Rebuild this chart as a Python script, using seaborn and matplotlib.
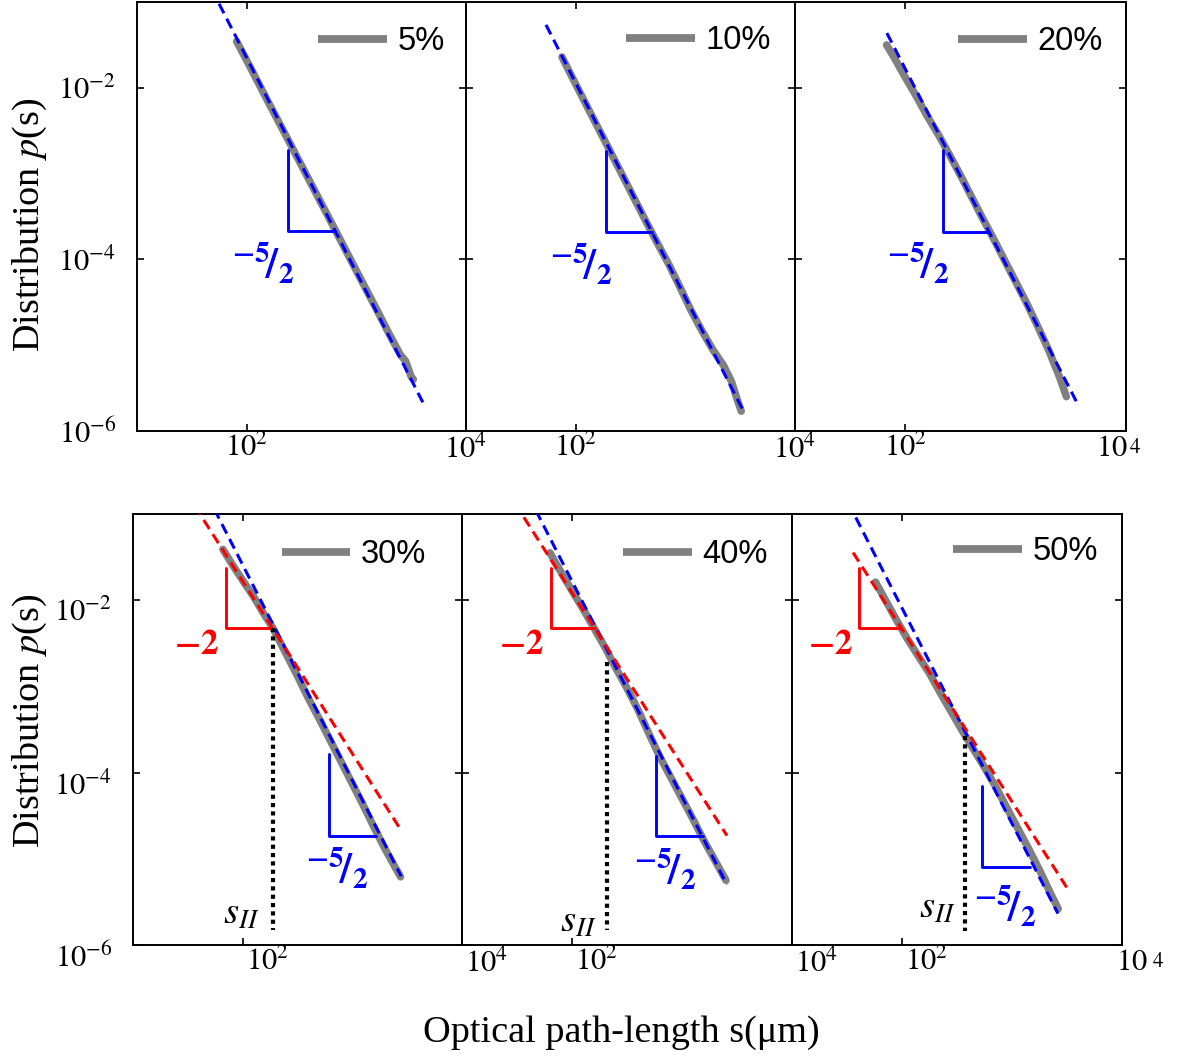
import matplotlib
matplotlib.use("Agg")
import matplotlib.pyplot as plt
import matplotlib.transforms as mtransforms
import seaborn as sns

sns.set_style("ticks")
plt.rcParams["font.family"] = ["Liberation Serif", "DejaVu Serif"]
plt.rcParams["mathtext.fontset"] = "stix"
for key in ("text.color", "axes.labelcolor", "xtick.color", "ytick.color", "axes.edgecolor"):
    plt.rcParams[key] = "black"

# ---------------- data: measured path-length distributions ----------------
fractions = ["5%", "10%", "20%", "30%", "40%", "50%"]

s_05 = [81, 100, 158, 251, 398, 631, 1000, 1585, 1995, 2512, 2818, 3162, 3311]
p_05 = [3.47e-2, 2.09e-2, 6.76e-3, 2.19e-3, 7.1e-4, 2.3e-4, 7.4e-5, 2.4e-5,
        1.35e-5, 7.8e-6, 6.5e-6, 4.3e-6, 4.0e-6]

s_10 = [75, 89, 112, 141, 178, 224, 282, 355, 447, 562, 708, 891, 1122, 1413,
        1778, 2239, 2630, 2951, 3236]
p_10 = [2.29e-2, 1.48e-2, 8.32e-3, 4.68e-3, 2.63e-3, 1.48e-3, 8.32e-4, 4.68e-4,
        2.63e-4, 1.51e-4, 8.71e-5, 4.79e-5, 2.57e-5, 1.48e-5, 8.91e-6, 5.75e-6,
        3.80e-6, 2.40e-6, 1.70e-6]

s_20 = [67.6, 79.4, 100, 126, 158, 200, 251, 316, 398, 501, 631, 794, 1000,
        1259, 1585, 1995, 2512, 2884]
p_20 = [3.16e-2, 2.24e-2, 1.32e-2, 7.94e-3, 4.68e-3, 2.82e-3, 1.66e-3, 9.55e-4,
        5.37e-4, 3.02e-4, 1.74e-4, 9.77e-5, 5.50e-5, 3.09e-5, 1.66e-5, 8.71e-6,
        4.17e-6, 2.51e-6]

s_30 = [66, 79, 100, 126, 158, 186, 251, 316, 398, 501, 631, 794, 1000, 1259,
        1585, 1995, 2512, 2754]
p_30 = [3.89e-2, 2.69e-2, 1.70e-2, 1.096e-2, 6.76e-3, 4.90e-3, 2.34e-3, 1.32e-3,
        7.24e-4, 4.17e-4, 2.34e-4, 1.32e-4, 7.41e-5, 4.17e-5, 2.29e-5, 1.29e-5,
        7.59e-6, 6.17e-6]

s_40 = [63, 79, 100, 126, 158, 200, 251, 316, 398, 501, 631, 794, 1000, 1259,
        1585, 1995, 2512]
p_40 = [3.55e-2, 2.14e-2, 1.29e-2, 7.94e-3, 4.79e-3, 2.82e-3, 1.62e-3, 9.55e-4,
        5.37e-4, 2.82e-4, 1.51e-4, 8.71e-5, 5.01e-5, 2.88e-5, 1.62e-5, 9.55e-6,
        5.62e-6]

s_50 = [57.5, 70.8, 89.1, 112, 141, 178, 224, 282, 355, 447, 562, 708, 891,
        1122, 1413, 1778, 2239, 2630]
p_50 = [1.62e-2, 1.00e-2, 5.89e-3, 3.55e-3, 2.24e-3, 1.41e-3, 8.32e-4, 5.01e-4,
        3.02e-4, 1.86e-4, 1.15e-4, 6.92e-5, 3.98e-5, 2.29e-5, 1.32e-5, 7.41e-6,
        3.98e-6, 2.63e-6]

# power-law guides p = A * s**exponent
exp_late = -5 / 2
exp_early = -2
blue_amp = [2239, 1140, 1656, 2570, 1660, 811]
blue_s_range = [(56, 4227), (53.6, 3428), (68, 3750), (40, 2786), (40, 2564), (38, 2618)]
red_amp = [None, None, None, 166, 122, 46.0]
red_s_range = [None, None, None, (25, 2786), (25, 2564), (35.9, 3162)]

# slope triangles: (s_left, s_right, p_top, p_bottom)
tri_blue = [(238, 638, 1.88e-3, 2.14e-4), (189, 497, 1.83e-3, 2.08e-4),
            (219, 573, 1.88e-3, 2.08e-4), (618, 1652, 1.64e-4, 1.85e-5),
            (581, 1552, 1.55e-4, 1.85e-5), (533, 1459, 6.98e-5, 8.07e-6)]
tri_red = [None, None, None, (70, 184, 2.38e-2, 4.81e-3),
           (64.4, 162, 2.38e-2, 4.81e-3), (40.6, 95.9, 2.38e-2, 4.81e-3)]

# crossover length s_II: (s, p_top, p_bottom)
s_cross = [None, None, None, (188, 4.81e-3, 1.48e-6),
           (208, 1.9e-3, 1.48e-6), (374, 2.64e-4, 1.45e-6)]

series_s = [s_05, s_10, s_20, s_30, s_40, s_50]
series_p = [p_05, p_10, p_20, p_30, p_40, p_50]

# ---------------- layout ----------------
W, H = 1177, 1057
fig = plt.figure(figsize=(W / 100, H / 100), dpi=100)

edges = [(137, 466, 2, 431), (466, 795, 2, 431), (795, 1126, 2, 431),
         (133, 462, 514, 945), (462, 792, 514, 945), (792, 1122, 514, 945)]

legend_anchor = [(0.936, 0.907), (0.927, 0.910), (0.930, 0.907),
                 (0.891, 0.905), (0.927, 0.905), (0.927, 0.912)]
frac_pos = [(0.383, 0.387), (0.350, 0.385), (0.372, 0.387),
            (0.621, 0.174), (0.615, 0.172), (0.645, 0.086)]
two_pos = [None, None, None, (0.194, 0.696), (0.179, 0.694), (0.115, 0.696)]
sII_pos = [None, None, None, (0.330, 0.070), (0.352, 0.053), (0.439, 0.086)]

GRAY = "#808080"
BLUE = "#0000FF"
RED = "#FF0000"
TICK_FS = 22
FRAC_TXT = r"${}^{\mathbf{-5}}\!\mathbf{/}_{\mathbf{2}}$"

for i in range(6):
    l, r, t, b = edges[i]
    ax = fig.add_axes([l / W, 1 - b / H, (r - l) / W, (b - t) / H])
    ax.set_xscale("log")
    ax.set_yscale("log")

    sns.lineplot(x=series_s[i], y=series_p[i], ax=ax, color=GRAY, lw=5.4,
                 label=fractions[i], solid_capstyle="round", zorder=2)

    s0, s1 = blue_s_range[i]
    sns.lineplot(x=[s0, s1], y=[blue_amp[i] * s0 ** exp_late, blue_amp[i] * s1 ** exp_late],
                 ax=ax, color=BLUE, lw=2.2, legend=False, zorder=3)
    ax.lines[-1].set_dashes((3.5, 2.0))

    if red_amp[i] is not None:
        r0, r1 = red_s_range[i]
        sns.lineplot(x=[r0, r1], y=[red_amp[i] * r0 ** exp_early, red_amp[i] * r1 ** exp_early],
                     ax=ax, color=RED, lw=2.2, legend=False, zorder=3)
        ax.lines[-1].set_dashes((3.5, 2.0))

    sl, sr, pt, pb = tri_blue[i]
    ax.plot([sl, sl, sr], [pt, pb, pb], color=BLUE, lw=2.1, zorder=4)
    ax.text(*frac_pos[i], FRAC_TXT, transform=ax.transAxes, color=BLUE,
            fontsize=30, ha="center", va="center")

    if tri_red[i] is not None:
        sl, sr, pt, pb = tri_red[i]
        ax.plot([sl, sl, sr], [pt, pb, pb], color=RED, lw=2.1, zorder=4)
        ax.text(*two_pos[i], r"$\mathbf{-2}$", transform=ax.transAxes, color=RED,
                fontsize=25, ha="center", va="center")

    if s_cross[i] is not None:
        sc, ptop, pbot = s_cross[i]
        ax.plot([sc, sc], [ptop, pbot], color="black", lw=3.0,
                linestyle=(0, (1, 1.0)), zorder=4)
        ax.text(*sII_pos[i], r"$s_{II}$", transform=ax.transAxes, color="black",
                fontsize=28, ha="center", va="center")

    ax.set_xlim(10, 1e4)
    ax.set_ylim(1e-6, 1e-1)
    ax.set_xticks([1e2, 1e4])
    ax.set_yticks([1e-2, 1e-4, 1e-6])
    ax.minorticks_off()
    col = i % 3
    row = i // 3
    if col == 2:
        ax.set_xticklabels([r"$10^{2}$", ""])
    else:
        ax.set_xticklabels([r"$10^{2}$", r"$10^{4}$"])
    ax.set_yticklabels([r"$10^{-2}$", r"$10^{-4}$", r"$10^{-6}$"])
    ax.tick_params(axis="both", which="both", direction="in", top=True, right=True,
                   length=5, width=1.2, labelsize=TICK_FS, colors="black")
    ax.tick_params(axis="x", pad=2)
    ax.tick_params(axis="y", pad=15)
    if col != 0:
        ax.tick_params(labelleft=False)
    for sp in ax.spines.values():
        sp.set_linewidth(1.4)
        sp.set_color("black")
        sp.set_visible(True)

    if row == 1:
        for lbl in ax.get_xticklabels():
            lbl.set_horizontalalignment("left")
            lbl.set_transform(lbl.get_transform() + mtransforms.ScaledTranslation(
                0.03, 0.0, fig.dpi_scale_trans))
        for lbl in ax.get_yticklabels():
            lbl.set_transform(lbl.get_transform() + mtransforms.ScaledTranslation(
                0, -0.10, fig.dpi_scale_trans))

    if col == 2:
        # right-end decade label
        if row == 0:
            ax.annotate(r"$10$", xy=(1, 0), xycoords="axes fraction", xytext=(-14, -3),
                        textcoords="offset pixels", ha="center", va="top", fontsize=TICK_FS)
            ax.annotate(r"$4$", xy=(1, 0), xycoords="axes fraction", xytext=(9, -8),
                        textcoords="offset pixels", ha="center", va="top", fontsize=15)
        else:
            ax.annotate(r"$10$", xy=(1, 0), xycoords="axes fraction", xytext=(-6, -3),
                        textcoords="offset pixels", ha="left", va="top", fontsize=TICK_FS)
            ax.annotate(r"$4$", xy=(1, 0), xycoords="axes fraction", xytext=(30, -8),
                        textcoords="offset pixels", ha="left", va="top", fontsize=15)

    ax.set_xlabel("")
    ax.set_ylabel("")
    leg = ax.legend(loc="center right", bbox_to_anchor=legend_anchor[i], frameon=False,
                    borderpad=0, borderaxespad=0, handlelength=2.1, handletextpad=0.33,
                    labelcolor="black",
                    prop={"family": ["Liberation Sans", "DejaVu Sans"], "size": 23.5})
    for h in leg.legend_handles:
        h.set_linewidth(5.6)
        h.set_solid_capstyle("butt")

fig.text(30 / W, 1 - 225 / H, r"Distribution $p$(s)", rotation=90, ha="center",
         va="center", fontsize=27.5, color="black")
fig.text(30 / W, 1 - 721 / H, r"Distribution $p$(s)", rotation=90, ha="center",
         va="center", fontsize=27.5, color="black")
fig.text(621 / W, 1 - 1033 / H, "Optical path-length s(\u03bcm)", ha="center",
         va="center", fontsize=27.5, color="black")

fig.savefig("out.png", dpi=100)
